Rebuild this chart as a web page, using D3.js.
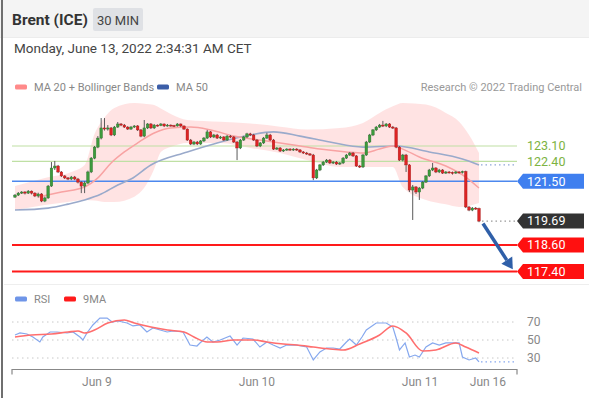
<!DOCTYPE html>
<html><head><meta charset="utf-8">
<script src="https://cdn.jsdelivr.net/npm/d3@7"></script>
<style>body{margin:0;background:#fff;} svg{display:block;font-family:Roboto,"Liberation Sans",Arial,sans-serif;}</style>
</head><body><svg id="c" width="589" height="398"></svg>
<script>
// ---- candle data (30 min, index based) ----
const opens = [120.78,120.87,120.96,121.01,120.96,121.05,120.96,120.83,120.92,120.60,
120.74,121.28,122.10,122.19,121.92,121.74,121.65,121.60,121.69,121.60,
121.46,121.28,121.42,121.92,122.55,123.05,123.46,123.92,123.87,123.92,
123.60,123.96,124.10,124.05,123.96,123.87,123.96,124.01,123.83,123.55,
123.92,124.10,123.92,124.05,124.03,124.10,124.01,124.05,124.03,124.01,
124.10,124.01,123.87,123.37,123.19,123.28,123.19,123.33,123.46,123.74,
123.51,123.60,123.46,123.51,123.37,123.55,123.51,123.28,123.01,123.37,
123.51,123.65,123.60,123.37,123.10,123.24,123.46,123.60,123.37,122.96,
123.01,122.87,122.92,122.96,122.92,122.96,122.92,122.83,122.78,122.74,
122.69,121.65,122.01,122.24,122.37,122.46,122.33,122.37,122.28,122.33,
122.55,122.69,122.78,122.65,122.19,122.15,122.69,123.28,123.60,123.83,
123.96,124.05,124.01,124.10,123.96,123.92,123.05,122.46,122.69,122.24,
121.10,121.24,121.01,121.19,121.46,121.74,122.01,122.10,121.92,122.01,
121.87,121.92,121.90,121.87,121.92,121.90,121.94,120.33,120.19,120.28,
120.26];
const closes = [120.87,120.96,121.01,120.96,121.05,120.96,120.83,120.92,120.60,120.74,
121.28,122.10,122.19,121.92,121.74,121.65,121.60,121.69,121.60,121.46,
121.28,121.42,121.92,122.55,123.05,123.46,123.92,123.87,123.92,123.60,
123.96,124.10,124.05,123.96,123.87,123.96,124.01,123.83,123.55,123.92,
124.10,123.92,124.05,124.03,124.10,124.01,124.05,124.03,124.01,124.10,
124.01,123.87,123.37,123.19,123.28,123.19,123.33,123.46,123.74,123.51,
123.60,123.46,123.51,123.37,123.55,123.51,123.28,123.01,123.37,123.51,
123.65,123.60,123.37,123.10,123.24,123.46,123.60,123.37,122.96,123.01,
122.87,122.92,122.96,122.92,122.96,122.92,122.83,122.78,122.74,122.69,
121.65,122.01,122.24,122.37,122.46,122.33,122.37,122.28,122.33,122.55,
122.69,122.78,122.65,122.19,122.15,122.69,123.28,123.60,123.83,123.96,
124.05,124.01,124.10,123.96,123.92,123.05,122.46,122.69,122.24,121.10,
121.24,121.01,121.19,121.46,121.74,122.01,122.10,121.92,122.01,121.87,
121.92,121.90,121.87,121.92,121.90,121.94,120.33,120.19,120.28,120.26,
119.69];
const highs = [120.92,121.01,121.05,121.05,121.10,121.08,121.00,120.98,120.96,120.80,
121.33,122.37,122.42,122.24,121.96,121.78,121.69,121.74,121.74,121.65,
121.50,121.50,121.98,122.60,123.10,123.55,124.37,124.37,124.05,123.96,
124.01,124.19,124.14,124.10,124.00,124.01,124.05,124.05,123.87,124.28,
124.14,124.14,124.10,124.08,124.14,124.12,124.10,124.08,124.06,124.14,
124.12,124.03,123.90,123.42,123.33,123.33,123.37,123.51,123.83,123.78,
123.65,123.65,123.56,123.55,123.60,123.60,123.55,123.33,123.42,123.56,
123.70,123.70,123.65,123.42,123.28,123.51,123.70,123.65,123.42,123.05,
123.05,122.96,123.00,123.00,123.00,123.00,122.96,122.87,122.83,122.78,
122.74,122.06,122.28,122.42,122.51,122.51,122.42,122.42,122.37,122.60,
122.74,122.83,122.83,122.69,122.24,122.74,123.33,123.65,123.87,124.01,
124.10,124.24,124.14,124.14,124.01,123.96,123.10,122.74,122.74,122.28,
121.33,121.28,121.24,121.51,121.78,122.06,122.33,122.14,122.06,122.05,
121.96,121.96,121.94,121.96,121.96,121.98,121.98,120.37,120.33,120.33,
120.30];
const lows = [120.74,120.83,120.92,120.90,120.92,120.90,120.78,120.76,120.55,120.55,
120.70,121.24,122.01,121.87,121.69,121.60,121.55,121.55,121.55,121.40,
120.96,120.96,121.37,121.87,122.50,123.00,123.40,123.80,123.80,123.55,
123.55,123.92,124.00,123.92,123.83,123.83,123.92,123.78,123.50,123.50,
123.87,123.87,123.87,123.98,124.00,123.96,123.98,123.98,123.96,123.98,
123.96,123.83,123.33,123.14,123.14,123.14,123.15,123.28,123.42,123.46,
123.46,123.42,123.42,123.33,123.33,123.46,123.24,122.46,122.96,123.33,
123.46,123.55,123.33,123.05,123.05,123.19,123.42,123.33,122.92,122.92,
122.83,122.83,122.88,122.88,122.88,122.88,122.78,122.74,122.70,122.65,
121.55,121.60,121.96,122.19,122.33,122.28,122.28,122.24,122.24,122.28,
122.51,122.65,122.60,122.15,122.10,122.10,122.65,123.24,123.55,123.78,
123.92,123.96,123.96,123.92,123.87,123.00,122.42,122.40,121.92,121.01,
119.74,120.92,120.65,121.14,121.42,121.69,121.96,121.87,121.87,121.83,
121.83,121.85,121.80,121.83,121.85,121.85,120.28,120.14,120.14,120.20,
119.64];

// ---- indicators (read at sample candle indices) ----
const ma20Idx = [7,14,21,25,29,33,37,42,47,53,59,66,76,86,92,100,105,110,114,117,122,130,136,140];
const ma20Val = [120.78,121.01,121.24,121.65,122.33,122.83,123.24,123.69,123.92,123.96,123.83,123.55,123.33,123.10,122.96,122.83,122.78,122.96,123.10,122.96,122.60,122.19,121.69,121.19];
const ma50Idx = [0,10,16,21,26,31,35,41,52,61,71,78,86,95,105,115,125,135,140];
const ma50Val = [120.19,120.28,120.46,120.65,120.92,121.33,121.60,122.24,122.83,123.24,123.60,123.74,123.55,123.28,123.05,123.10,122.83,122.51,122.24];
const bandIdx = [0,9,17,21,24,27,30,36,39,42,44,47,52,62,71,80,88,98,105,110,114,117,124,130,134,137,140];
const bandUpper = [121.28,121.65,121.92,122.24,123.65,124.40,124.83,125.05,125.02,124.96,124.80,124.55,124.28,124.20,124.12,123.98,123.85,123.92,124.15,124.60,124.90,125.05,124.98,124.60,124.20,123.60,122.78];
const bandLower = [120.19,120.42,120.58,120.65,120.62,120.56,120.56,120.80,121.20,122.05,122.83,123.05,123.24,123.24,123.01,122.78,122.46,122.15,122.15,122.15,122.15,121.24,120.65,120.45,120.33,120.38,120.51];

const rsiIdx = [0,1.5,3.6,5.4,7.5,8.4,10.6,12.7,15.7,17.5,19.6,20.5,21.7,23.5,25.6,27.8,29.3,31.1,33.8,35.6,37.7,39.8,41.6,43.8,45.9,47.7,50.7,52.8,54.9,55.8,57.9,59.7,61.9,64.9,67,68.8,71.8,73.9,76,77.9,80,82,85,88,90,92,94,96,98,100,101,103,104.7,106,109,112,114,115,116,117.7,119,120.7,122,124,126,128,130,134,135,137,139,140];
const rsiVal = [55.6,57.8,56.7,53.3,47.8,53.3,58.9,58.9,57.8,58.9,53.3,50,57.8,66.7,74.4,74.4,70,71.1,68.9,65.6,66.7,58.9,63.3,61.1,58.9,60,58.9,44.4,43.3,46.7,53.3,47.8,50,54.4,44.4,52.2,51.1,42.2,47.8,44.4,41.1,44.4,44.4,42.2,27.8,36.7,41.1,41.1,40,47.8,51.1,44.4,53.3,61.1,68.9,68.9,64.4,52.2,38.9,46.7,31.1,33.3,31.1,42.2,46.7,44.4,46.7,46.7,31.1,27.8,30,25.6];
const ma9Idx = [0,5,11,16,19,21,24,28,33,36,41,46,51,54,58,61,66,72,76,81,85,90,95,99,104,110,114,118,123,127,133,136,140];
const ma9Val = [53.3,55.6,56.7,58.9,60,57.8,61.1,68.9,72.2,68.9,64.4,61.1,58.9,53.3,47.8,47.8,50,50,47.8,45.6,44.4,42.2,40,38.9,45.6,55.6,65.6,57.8,37.8,38.9,46.7,42.2,35.6];

// ---- levels and labels ----
const greenLevels = [123.10, 122.40];
const blueLevel = 121.50;
const lastPrice = 119.69;
const redLevels = [118.60, 117.40];
const rsiLevels = [70, 50, 30];
const tickIdx = [24.7, 73, 122.2, 142.7];
const tickLabels = ["Jun 9", "Jun 10", "Jun 11", "Jun 16"];
const arrowFrom = [141.2, 119.58];
const arrowTo = [150.2, 117.50];

const W = 589, H = 398;
const svg = d3.select("#c");
const x = d3.scaleLinear().domain([0, 140]).range([15, 479]);
const y = d3.scaleLinear().domain([117.40, 123.10]).range([271.5, 146]);
const yr = d3.scaleLinear().domain([30, 70]).range([358, 322]);
const plotL = 12, plotR = 517;
const FONT = "Roboto,'Liberation Sans',Arial,sans-serif";

// header
svg.append("rect").attr("x",0).attr("y",0).attr("width",W).attr("height",37).attr("fill","#f4f4f4");
svg.append("line").attr("x1",0).attr("x2",W).attr("y1",37.5).attr("y2",37.5).attr("stroke","#ececec");
svg.append("line").attr("x1",2).attr("x2",2).attr("y1",0).attr("y2",H).attr("stroke","#6f6f6f").attr("stroke-width",2);
svg.append("text").attr("x",12).attr("y",25).attr("font-size",15.5).attr("font-weight","bold").attr("fill","#333").text("Brent (ICE)");
svg.append("rect").attr("x",93).attr("y",8).attr("width",50).attr("height",23).attr("rx",2).attr("fill","#dfe1e5");
svg.append("text").attr("x",118).attr("y",24.5).attr("text-anchor","middle").attr("font-size",13).attr("fill","#444").text("30 MIN");
svg.append("text").attr("x",14).attr("y",53).attr("font-size",13.5).attr("fill","#444").text("Monday, June 13, 2022 2:34:31 AM CET");

// legends
function legendItem(x0, yy, color, label){
  svg.append("rect").attr("x",x0).attr("y",yy-2.5).attr("width",12).attr("height",5).attr("rx",1.5).attr("fill",color);
  svg.append("text").attr("x",x0+19).attr("y",yy+4).attr("font-size",11).attr("fill","#888").text(label);
}
legendItem(15, 87, "#ff8a8a", "MA 20 + Bollinger Bands");
legendItem(157, 87, "#3c5ea8", "MA 50");
svg.append("text").attr("x",582).attr("y",91).attr("text-anchor","end").attr("font-size",11).attr("fill","#999").text("Research \u00A9 2022 Trading Central");
legendItem(15, 299, "#6f95e8", "RSI");
legendItem(64, 299, "#ff1a1a", "9MA");

// bollinger band
const band = d3.area()
  .x((d,i)=>x(bandIdx[i])).y0((d,i)=>y(bandLower[i])).y1((d,i)=>y(bandUpper[i]))
  .curve(d3.curveMonotoneX);
svg.append("path").attr("d", band(bandIdx)).attr("fill","#ffdede").attr("opacity",0.85);

// level lines
greenLevels.forEach(v=>{
  svg.append("line").attr("x1",plotL).attr("x2",plotR).attr("y1",y(v)).attr("y2",y(v)).attr("stroke","#bfe0a4").attr("stroke-width",1.2);
});
svg.append("line").attr("x1",plotL).attr("x2",plotR).attr("y1",y(blueLevel)).attr("y2",y(blueLevel)).attr("stroke","#4d88ee").attr("stroke-width",1.5);
redLevels.forEach(v=>{
  svg.append("line").attr("x1",plotL).attr("x2",plotR).attr("y1",y(v)).attr("y2",y(v)).attr("stroke","#ff1a1a").attr("stroke-width",2);
});

// MA lines
const ma20Line = d3.line().x((d,i)=>x(ma20Idx[i])).y(d=>y(d)).curve(d3.curveMonotoneX);
const ma50Line = d3.line().x((d,i)=>x(ma50Idx[i])).y(d=>y(d)).curve(d3.curveMonotoneX);
svg.append("path").attr("d", ma50Line(ma50Val)).attr("fill","none").attr("stroke","#9aaacb").attr("stroke-width",1.6);
svg.append("path").attr("d", ma20Line(ma20Val)).attr("fill","none").attr("stroke","#f8a3a3").attr("stroke-width",1.5);
// MA50 dotted extension
const lastMa50 = ma50Val[ma50Val.length-1];
svg.append("line").attr("x1",x(140)+2).attr("x2",plotR).attr("y1",y(lastMa50)).attr("y2",y(lastMa50))
  .attr("stroke","#8fa6d6").attr("stroke-width",1.2).attr("stroke-dasharray","1.5,3");
// last price dotted
svg.append("line").attr("x1",x(140)+3).attr("x2",plotR).attr("y1",y(lastPrice)).attr("y2",y(lastPrice))
  .attr("stroke","#999").attr("stroke-width",1.2).attr("stroke-dasharray","1.5,3");

// candles
const cg = svg.append("g");
closes.forEach((c,i)=>{
  const o = opens[i], up = c >= o;
  const col = up ? "#3d9b3d" : "#dd2424";
  const cx = x(i);
  cg.append("line").attr("x1",cx).attr("x2",cx).attr("y1",y(highs[i])).attr("y2",y(lows[i])).attr("stroke","#5a5a5a").attr("stroke-width",1);
  const top = y(Math.max(o,c)), bot = y(Math.min(o,c));
  cg.append("rect").attr("x",cx-1.3).attr("y",top).attr("width",2.6).attr("height",Math.max(1,bot-top))
    .attr("fill",col).attr("stroke",up?"#2d6f2d":"#a51818").attr("stroke-width",0.4);
});

// tags
function tag(v, color, label){
  const yy = y(v), hh = 7.5;
  const pts = [[plotR,yy],[plotR+6,yy-hh],[584,yy-hh],[584,yy+hh],[plotR+6,yy+hh]];
  svg.append("path").attr("d","M"+pts.map(p=>p.join(",")).join("L")+"Z").attr("fill",color);
  svg.append("text").attr("x",527).attr("y",yy+4.3).attr("font-size",12.5).attr("fill","#fff").text(label);
}
greenLevels.forEach(v=>{
  svg.append("text").attr("x",527).attr("y",y(v)+4.3).attr("font-size",12.5).attr("fill","#7cb342").text(v.toFixed(2));
});
tag(blueLevel, "#3f7fef", blueLevel.toFixed(2));
tag(lastPrice, "#333333", lastPrice.toFixed(2));
redLevels.forEach(v=>tag(v, "#ff1010", v.toFixed(2)));

// forecast arrow
const ax1 = x(arrowFrom[0]), ay1 = y(arrowFrom[1]), ax2 = x(arrowTo[0]), ay2 = y(arrowTo[1]);
const ang = Math.atan2(ay2-ay1, ax2-ax1);
const headL = 11, headW = 6.5;
const bx = ax2 - headL*Math.cos(ang), by = ay2 - headL*Math.sin(ang);
svg.append("line").attr("x1",ax1).attr("y1",ay1).attr("x2",bx).attr("y2",by).attr("stroke","#2f5fa8").attr("stroke-width",3.5);
svg.append("path").attr("d",`M${ax2},${ay2}L${bx+headW*Math.sin(ang)},${by-headW*Math.cos(ang)}L${bx-headW*Math.sin(ang)},${by+headW*Math.cos(ang)}Z`).attr("fill","#2f5fa8");

// panel separator
svg.append("line").attr("x1",4).attr("x2",W).attr("y1",284.5).attr("y2",284.5).attr("stroke","#eeeeee");

// RSI panel
rsiLevels.forEach(v=>{
  svg.append("line").attr("x1",plotL).attr("x2",plotR).attr("y1",yr(v)).attr("y2",yr(v)).attr("stroke","#c8c8c8").attr("stroke-width",1).attr("stroke-dasharray","1.5,3.5");
  svg.append("text").attr("x",527).attr("y",yr(v)+4.3).attr("font-size",12).attr("fill","#888").text(v);
});
const rsiLine = d3.line().x((d,i)=>x(rsiIdx[i])).y(d=>yr(d));
const ma9Line = d3.line().x((d,i)=>x(ma9Idx[i])).y(d=>yr(d)).curve(d3.curveMonotoneX);
svg.append("path").attr("d", rsiLine(rsiVal)).attr("fill","none").attr("stroke","#86a8ee").attr("stroke-width",1.2);
svg.append("path").attr("d", ma9Line(ma9Val)).attr("fill","none").attr("stroke","#ff6e6e").attr("stroke-width",1.6);
const lastRsi = rsiVal[rsiVal.length-1];
svg.append("line").attr("x1",x(140)+2).attr("x2",plotR).attr("y1",yr(lastRsi)).attr("y2",yr(lastRsi))
  .attr("stroke","#86a8ee").attr("stroke-width",1.2).attr("stroke-dasharray","1.5,3");

// x axis
const axisY = 369.5;
svg.append("path").attr("d",`M${plotL},${axisY+5}V${axisY}H${plotR}V${axisY+5}`).attr("fill","none").attr("stroke","#888").attr("stroke-width",1.2);
tickIdx.forEach((t,i)=>{
  svg.append("text").attr("x",x(t)).attr("y",386).attr("text-anchor","middle").attr("font-size",12).attr("fill","#888").text(tickLabels[i]);
});
</script>
</body></html>
